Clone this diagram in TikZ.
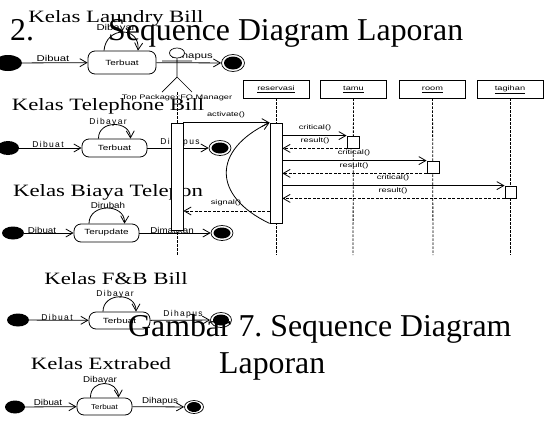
\documentclass[tikz,border=0pt]{standalone}
\usepackage{fontspec}
\setmainfont{Liberation Serif}
\setsansfont{Liberation Sans}
\newfontfamily\headfont[FakeStretch=1.32]{Liberation Serif}
\newfontfamily\stA[FakeStretch=1.33]{Liberation Sans}
\newfontfamily\stB[FakeStretch=1.15]{Liberation Sans}
\newfontfamily\stC[FakeStretch=1.42]{Liberation Sans}
\newfontfamily\lsp[LetterSpace=16]{Liberation Sans}
\usetikzlibrary{arrows.meta,shapes.geometric}
\tikzset{
  arr/.style={-{Straight Barb[length=7pt,width=8pt]},line width=0.8pt},
  dasharr/.style={arr,dash pattern=on 3pt off 1.5pt},
  statebox/.style={rounded corners=7pt,draw=black,fill=white,line width=0.8pt,inner sep=0pt,font=\stA\fontsize{7.5}{8}\selectfont},
  endstate/.style={ellipse,draw=black,fill=white,inner sep=0pt,line width=0.7pt},
  endcore/.style={ellipse,fill=black,inner sep=0pt},
  lblA/.style={inner sep=0pt,font=\stA\fontsize{8.5}{9}\selectfont},
  lblB/.style={inner sep=0pt,font=\stB\fontsize{8.5}{9}\selectfont},
  lblS/.style={inner sep=0pt,font=\lsp\fontsize{8.5}{9}\selectfont},
  seqlbl/.style={inner sep=0pt,font=\stC\fontsize{6.5}{7}\selectfont},
  heading/.style={inner sep=0pt,font=\headfont\fontsize{17.3}{18}\selectfont},
  bigtext/.style={inner sep=0pt,anchor=base west,font=\rmfamily\frenchspacing\fontsize{31.8}{32}\selectfont},
  objbox/.style={draw=black,fill=white,line width=0.7pt,inner sep=0pt,minimum width=66pt,minimum height=18pt,text height=5pt,text depth=1.5pt,font=\stC\fontsize{6.5}{7}\selectfont},
  act/.style={draw=black,fill=white,line width=0.8pt,inner sep=0pt,minimum width=12pt},
  life/.style={dash pattern=on 2.5pt off 1.5pt,line width=0.8pt},
  stick/.style={line width=0.7pt}
}
\begin{document}
\begin{tikzpicture}[x=1pt,y=-1pt]
\useasboundingbox (0,0) rectangle (549,424);
% Row 1
\node[heading] (h1) at (116,18) {Kelas Laundry Bill};
\node[ellipse,fill=black,inner sep=0pt,minimum width=28pt,minimum height=16pt] (i1) at (8,63) {};
\node[statebox,minimum width=68pt,minimum height=23pt] (s1) at (122,62.5) {Terbuat};
\node[endstate,minimum width=23pt,minimum height=17pt] (e1) at (233,63) {};
\node[endcore,minimum width=18pt,minimum height=13pt] at (e1) {};
\draw[arr] (i1) -- (s1);
\draw[arr] (s1) -- (e1);
\draw[arr] ([xshift=-18pt]s1.north) .. controls (106,26) and (140,26) .. ([xshift=16pt]s1.north);
\node[lblA] (a1) at (116,28) {Dibayar};
\node[lblA] (b1) at (53,58) {Dibuat};
\node[lblA] (c1) at (192,56) {Dihapus};
% Row 2
\node[heading] (h2) at (108,106.5) {Kelas Telephone Bill};
\node[ellipse,fill=black,inner sep=0pt,minimum width=22pt,minimum height=14pt] (i2) at (8,148) {};
\node[statebox,minimum width=65pt,minimum height=18pt] (s2) at (114.5,148) {Terbuat};
\node[endstate,minimum width=22pt,minimum height=15pt] (e2) at (220,148) {};
\node[endcore,minimum width=17pt,minimum height=11pt] at (e2) {};
\draw[arr] (i2) -- (s2);
\draw[arr] (s2) -- (e2);
\draw[arr] ([xshift=-16pt]s2.north) .. controls (98,120) and (130,120) .. ([xshift=16pt]s2.north);
\node[lblS] (a2) at (108,122) {Dibayar};
\node[lblS] (b2) at (48,144) {Dibuat};
\node[lblS] (c2) at (180,142) {Dihapus};
% Row 3
\node[heading] (h3) at (108,192.5) {Kelas Biaya Telepon};
\node[ellipse,fill=black,inner sep=0pt,minimum width=22pt,minimum height=13pt] (i3) at (13,233) {};
\node[statebox,minimum width=65pt,minimum height=18pt] (s3) at (106.5,233) {Terupdate};
\node[endstate,minimum width=22pt,minimum height=15pt] (e3) at (222,233) {};
\node[endcore,minimum width=17pt,minimum height=11pt] at (e3) {};
\draw[arr] (i3) -- (s3);
\draw[arr] (s3) -- (e3);
\draw[arr] ([xshift=-17.5pt]s3.north) .. controls (89,203) and (125,203) .. ([xshift=18pt]s3.north);
\node[lblB] (a3) at (108,205) {Dirubah};
\node[lblB] (b3) at (42,230) {Dibuat};
\node[lblB] (c3) at (172,230) {Dimatikan};
% Row 4
\node[heading] (h4) at (116,278.5) {Kelas F\&B Bill};
\node[ellipse,fill=black,inner sep=0pt,minimum width=22pt,minimum height=13pt] (i4) at (18,320) {};
\node[statebox,minimum width=61pt,minimum height=17pt] (s4) at (119.5,320.5) {Terbuat};
\node[endstate,minimum width=21pt,minimum height=15pt] (e4) at (221,320) {};
\node[endcore,minimum width=16pt,minimum height=11pt] at (e4) {};
\draw[arr] (i4) -- (s4);
\draw[arr] (s4) -- (e4);
\draw[arr] ([xshift=-16.5pt]s4.north) .. controls (103,292) and (136,292) .. ([xshift=16.5pt]s4.north);
\node[lblS] (a4) at (115,294) {Dibayar};
\node[lblS] (b4) at (57,317) {Dibuat};
\node[lblS] (c4) at (183,314) {Dihapus};
% Row 5
\node[heading] (h5) at (101,363.5) {Kelas Extrabed};
\node[ellipse,fill=black,inner sep=0pt,minimum width=20pt,minimum height=13pt] (i5) at (15,407) {};
\node[statebox,minimum width=55pt,minimum height=17pt,font=\stB\fontsize{7}{8}\selectfont] (s5) at (104.5,406.5) {Terbuat};
\node[endstate,minimum width=19pt,minimum height=13pt] (e5) at (194,407) {};
\node[endcore,minimum width=14pt,minimum height=10pt] at (e5) {};
\draw[arr] (i5) -- (s5);
\draw[arr] (s5) -- (e5);
\draw[arr] ([xshift=-14pt]s5.north) .. controls (90,379) and (118,379) .. ([xshift=14pt]s5.north);
\node[lblB] (a5) at (100,380) {Dibayar};
\node[lblB] (b5) at (48,402) {Dibuat};
\node[lblB] (c5) at (160,401) {Dihapus};
% Actor
\coordinate (lifeActorEnd) at (177,255);
\coordinate (lifeActorStart) at (177,92);
\coordinate (hip) at (177,77);
\coordinate (handL) at (162,61);
\coordinate (handR) at (192,61);
\coordinate (footL) at (162,92);
\coordinate (footR) at (192,92);
\node[ellipse,draw=black,fill=white,stick,inner sep=0pt,minimum width=15pt,minimum height=10pt] (head) at (177,53) {};
\draw[stick] (head) -- (hip) (handL) -- (handR) (hip) -- (footL) (hip) -- (footR);
\draw[life] (lifeActorStart) -- (lifeActorEnd);
\node[seqlbl] (actorlbl) at (177,98) {Top Package::FO Manager};
% Objects
\node[objbox] (o1) at (276,89) {\underline{reservasi}};
\node[objbox] (o2) at (353.5,89) {\underline{tamu}};
\node[objbox] (o3) at (432.5,89) {\underline{room}};
\node[objbox] (o4) at (510,89) {\underline{tagihan}};
\coordinate (l1) at (276,255);
\coordinate (l2) at (353,255);
\coordinate (l3) at (433,255);
\coordinate (l4) at (510,255);
\draw[life] (o1) -- (l1);
\draw[life] (o2) -- (l2);
\draw[life] (o3) -- (l3);
\draw[life] (o4) -- (l4);
% Activations
\node[act,minimum height=107pt] (a0) at (177,176.5) {};
\node[act,minimum height=100pt] (ar) at (276,173) {};
\node[act,minimum height=12pt] (at) at (353,142) {};
\node[act,minimum height=12pt] (ao) at (433,167) {};
\node[act,minimum height=12pt,minimum width=11pt] (ag) at (510.5,192) {};
% Messages
\draw[arr] (a0.north east) -- (ar.north west);
\node[seqlbl] (m1) at (226,115) {activate()};
\draw[arr] (ar.east |- at.north) -- (at.north west);
\node[seqlbl] (m2) at (315,128) {critical()};
\draw[dasharr] (at.south west) -- (ar.east |- at.south);
\node[seqlbl] (m3) at (315,141) {result()};
\draw[arr] (ar.east |- ao.north) -- (ao.north west);
\node[seqlbl] (m4) at (354,153) {critical()};
\draw[dasharr] (ao.south west) -- (ar.east |- ao.south);
\node[seqlbl] (m5) at (354,166) {result()};
\draw[arr] (ar.east |- ag.north) -- (ag.north west);
\node[seqlbl] (m6) at (393,178) {critical()};
\draw[dasharr] (ag.south west) -- (ar.east |- ag.south);
\node[seqlbl] (m7) at (393,191) {result()};
\coordinate (sigy) at (270,211);
\draw[dasharr] (ar.west |- sigy) -- (a0.east |- sigy);
\node[seqlbl] (m8) at (226,203) {signal()};
\draw[arr] (ar.south west) .. controls (212,196) and (212,150) .. (ar.north west);
% Big text
\node[bigtext] (t1) at (10,40) {2.};
\node[bigtext] (t2) at (108,40) {Sequence Diagram Laporan};
\node[bigtext] (t3) at (128,336) {Gambar 7. Sequence Diagram};
\node[bigtext] (t4) at (219,373) {Laporan};
\end{tikzpicture}
\end{document}
